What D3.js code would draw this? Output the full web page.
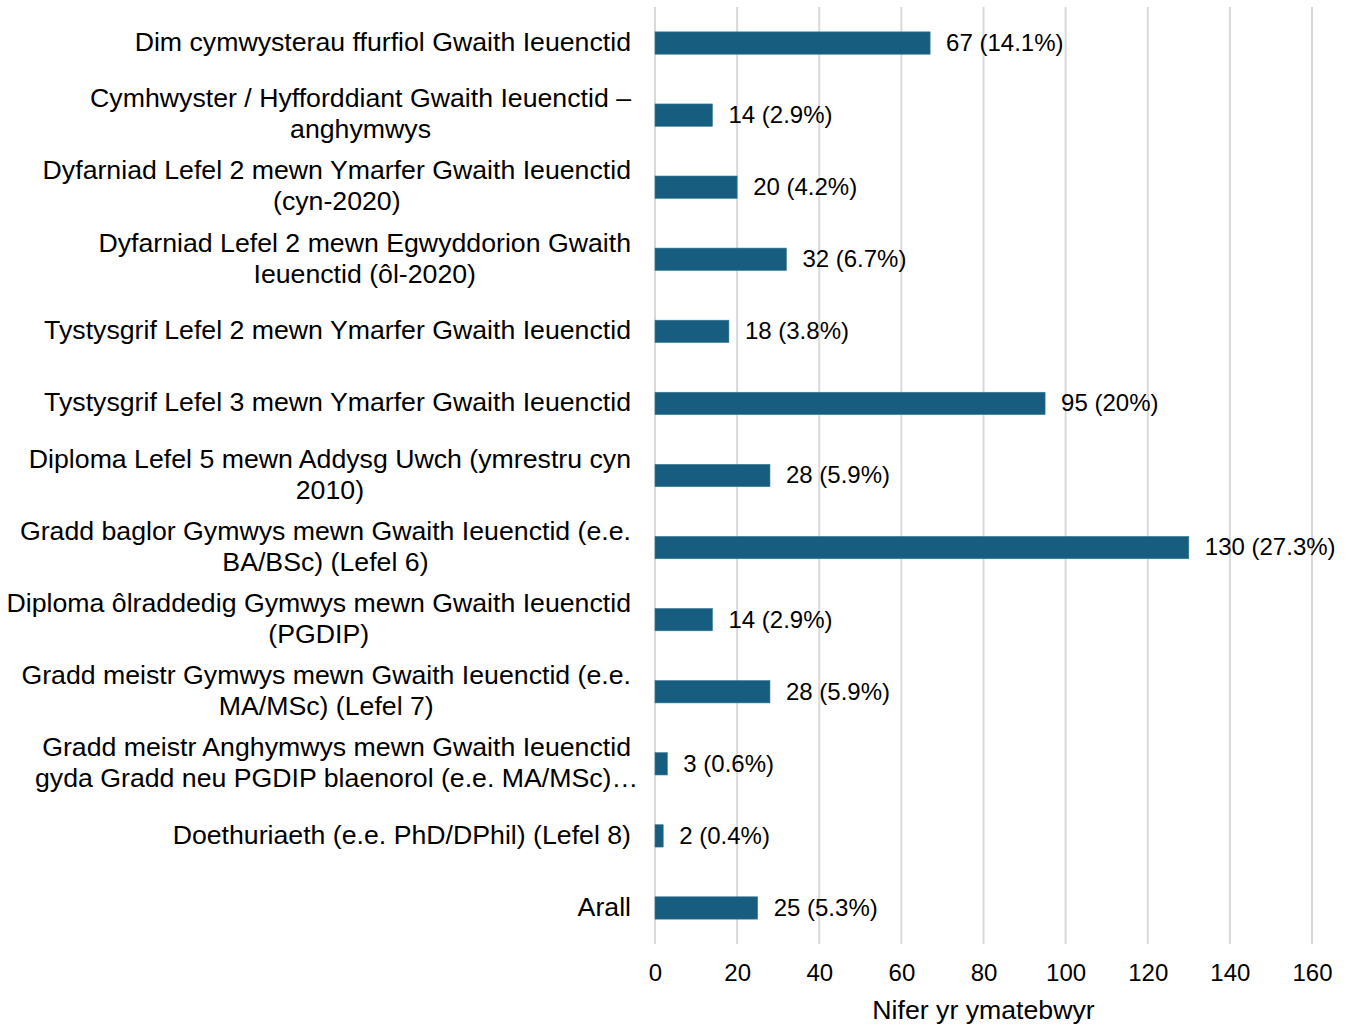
<!DOCTYPE html>
<html>
<head>
<meta charset="utf-8">
<script src="https://cdn.jsdelivr.net/npm/d3@7"></script>
<style>
  body { margin: 0; background: #fff; }
  text { font-family: "Liberation Sans", Arial, sans-serif; fill: #000; }
</style>
</head>
<body>
<div id="chart"></div>
<script>
// categories, wrapped the way the source chart wraps them
const categories = [
  ["Dim cymwysterau ffurfiol Gwaith Ieuenctid"],
  ["Cymhwyster / Hyfforddiant Gwaith Ieuenctid \u2013", "anghymwys"],
  ["Dyfarniad Lefel 2 mewn Ymarfer Gwaith Ieuenctid", "(cyn-2020)"],
  ["Dyfarniad Lefel 2 mewn Egwyddorion Gwaith", "Ieuenctid (\u00f4l-2020)"],
  ["Tystysgrif Lefel 2 mewn Ymarfer Gwaith Ieuenctid"],
  ["Tystysgrif Lefel 3 mewn Ymarfer Gwaith Ieuenctid"],
  ["Diploma Lefel 5 mewn Addysg Uwch (ymrestru cyn", "2010)"],
  ["Gradd baglor Gymwys mewn Gwaith Ieuenctid (e.e.", "BA/BSc) (Lefel 6)"],
  ["Diploma \u00f4lraddedig Gymwys mewn Gwaith Ieuenctid", "(PGDIP)"],
  ["Gradd meistr Gymwys mewn Gwaith Ieuenctid (e.e.", "MA/MSc) (Lefel 7)"],
  ["Gradd meistr Anghymwys mewn Gwaith Ieuenctid", "gyda Gradd neu PGDIP blaenorol (e.e. MA/MSc)\u2026"],
  ["Doethuriaeth (e.e. PhD/DPhil) (Lefel 8)"],
  ["Arall"]
];
const counts = [67, 14, 20, 32, 18, 95, 28, 130, 14, 28, 3, 2, 25];
const percents = ["14.1%", "2.9%", "4.2%", "6.7%", "3.8%", "20%", "5.9%", "27.3%", "2.9%", "5.9%", "0.6%", "0.4%", "5.3%"];
const xTicks = [0, 20, 40, 60, 80, 100, 120, 140, 160];
const xTitle = "Nifer yr ymatebwyr";

const W = 1352, H = 1025;
const margin = { top: 7, right: 40, bottom: 81, left: 655 };
const width = W - margin.left - margin.right;
const height = H - margin.top - margin.bottom;
const catSize = 26.7;

const svg = d3.select("#chart").append("svg")
  .attr("width", W).attr("height", H);

const g = svg.append("g")
  .attr("transform", `translate(${margin.left},${margin.top})`);

const x = d3.scaleLinear().domain([0, 160]).range([0, width]);
const y = d3.scaleBand()
  .domain(d3.range(categories.length))
  .range([0, height])
  .paddingInner(0.69)
  .paddingOuter(0.345);

// vertical grid lines
g.append("g")
  .selectAll("line")
  .data(xTicks)
  .join("line")
  .attr("x1", d => x(d)).attr("x2", d => x(d))
  .attr("y1", 0).attr("y2", height)
  .attr("stroke", "#d9d9d9")
  .attr("stroke-width", 2);

// x axis labels
const xAxis = g.append("g")
  .attr("transform", `translate(0,${height})`)
  .call(d3.axisBottom(x).tickValues(xTicks).tickSize(0).tickPadding(20));
xAxis.select(".domain").remove();
xAxis.selectAll("text")
  .style("font-size", "24px")
  .style("font-family", "'Liberation Sans', Arial, sans-serif")
  .attr("fill", "#000");

// axis title
g.append("text")
  .attr("x", width / 2)
  .attr("y", height + 75)
  .attr("text-anchor", "middle")
  .style("font-size", catSize + "px")
  .text(xTitle);

// bars
g.append("g")
  .selectAll("rect")
  .data(counts)
  .join("rect")
  .attr("x", x(0))
  .attr("y", (d, i) => y(i))
  .attr("width", d => x(d) - x(0))
  .attr("height", y.bandwidth())
  .attr("fill", "#175d80")
  .attr("stroke", "#3c7a98")
  .attr("stroke-width", 0.6);

// value labels
g.append("g")
  .selectAll("text")
  .data(counts)
  .join("text")
  .attr("x", d => x(d) + 16)
  .attr("y", (d, i) => y(i) + y.bandwidth() / 2)
  .attr("dy", "0.33em")
  .style("font-size", "24px")
  .text((d, i) => `${d} (${percents[i]})`);

// category labels: block right-aligned, lines centred on the first line
const lineH = 31;
const labels = g.append("g")
  .selectAll("text")
  .data(categories)
  .join("text")
  .attr("text-anchor", "middle")
  .style("font-size", catSize + "px")
  .attr("y", (d, i) => y(i) + y.bandwidth() / 2);

labels.selectAll("tspan")
  .data(d => d.map((t, k) => ({ t, k, n: d.length })))
  .join("tspan")
  .attr("dy", d => d.k === 0 ? `${0.29 * catSize - (d.n - 1) * lineH / 2}px` : `${lineH}px`)
  .text(d => d.t);

labels.each(function () {
  const spans = d3.select(this).selectAll("tspan");
  const w1 = spans.node().getComputedTextLength();
  spans.attr("x", -24 - w1 / 2);
});
</script>
</body>
</html>
